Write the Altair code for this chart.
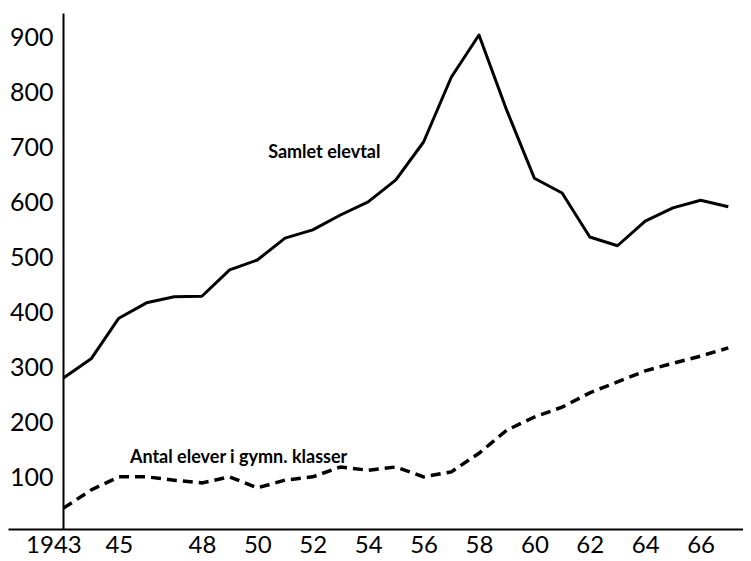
import altair as alt
import pandas as pd

years = list(range(1943, 1968))
samlet = [275, 310, 384, 412, 423, 424, 472, 490, 530, 545, 572, 596, 636,
          705, 823, 900, 763, 639, 612, 532, 516, 561, 585, 599, 587]
gymn = [38, 71, 95, 95, 89, 84, 95, 75, 89, 95, 113, 107, 113,
        95, 104, 138, 180, 204, 222, 248, 268, 288, 302, 315, 330]

x_ticks = [1943, 1945, 1948, 1950, 1952, 1954, 1956, 1958, 1960, 1962, 1964, 1966]
y_ticks = [100, 200, 300, 400, 500, 600, 700, 800, 900]

label_texts = ["Samlet elevtal", "Antal elever i gymn. klasser"]
label_years = [1950.39, 1945.40]
label_values = [676, 120]

df_total = pd.DataFrame({"year": years, "value": samlet})
df_gymn = pd.DataFrame({"year": years, "value": gymn})
df_labels = pd.DataFrame({"year": label_years, "value": label_values, "label": label_texts})

FONT = "Lato"

x_enc = alt.X(
    "year:Q",
    scale=alt.Scale(domain=[1941, 1967.53], nice=False, zero=False),
    axis=alt.Axis(
        values=x_ticks,
        labelExpr="datum.value == 1943 ? '1943' : substring(toString(datum.value), 2)",
        title=None,
        grid=False,
        ticks=False,
        domainColor="black",
        domainWidth=2,
        labelFont=FONT,
        labelFontSize=24,
        labelColor="black",
        labelPadding=4,
        labelFlush=False,
        labelOverlap=False,
        labelOffset={"condition": {"test": "datum.value == 1943", "value": -10}, "value": 0},
    ),
)

y_enc = alt.Y(
    "value:Q",
    scale=alt.Scale(domain=[0, 940], nice=False),
    axis=alt.Axis(
        values=y_ticks,
        title=None,
        grid=False,
        ticks=False,
        offset=-55,
        domainColor="black",
        domainWidth=2,
        labelFont=FONT,
        labelFontSize=25,
        labelColor="black",
        labelPadding=10,
        labelOffset=3,
        labelFlush=False,
        labelOverlap=False,
    ),
)

total_line = alt.Chart(df_total).mark_line(
    color="black", strokeWidth=3, strokeJoin="round"
).encode(x=x_enc, y=y_enc)

gymn_line = alt.Chart(df_gymn).mark_line(
    color="black", strokeWidth=3.5, strokeDash=[10, 6]
).encode(x="year:Q", y="value:Q")

labels = alt.Chart(df_labels).mark_text(
    align="left", baseline="alphabetic", font=FONT, fontSize=18,
    fontWeight="bold", color="black"
).encode(x="year:Q", y="value:Q", text="label:N")

chart = alt.layer(total_line, gymn_line, labels).properties(
    width=735, height=516,
    padding={"left": 0, "top": 5, "right": 0, "bottom": 0},
    background="white",
).configure_view(stroke=None)

chart.save("out.html", embed_options={"renderer": "svg", "actions": False})
